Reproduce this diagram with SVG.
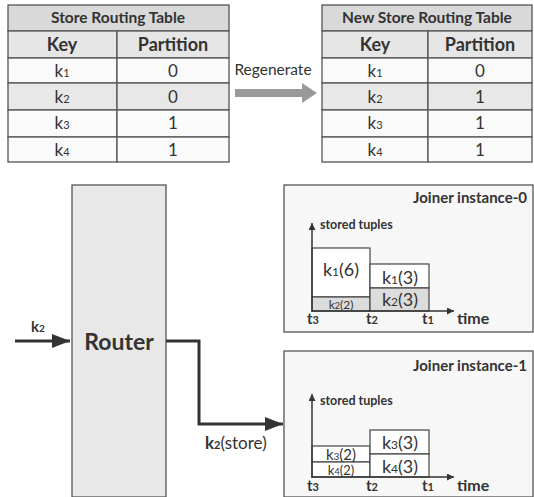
<svg xmlns="http://www.w3.org/2000/svg" width="534" height="497" viewBox="0 0 534 497">
<defs>
<style>
text{font-family:Lato,"Open Sans","Liberation Sans",sans-serif;fill:#333}
.b{font-weight:bold}
.cell{stroke:#555;stroke-width:1.3}
.title{fill:#d9d9d9}
.hdr{fill:#e6e6e6}
.wr{fill:#fafafa}
.gr{fill:#e8e8e8}
.tt{font-size:15.5px;font-weight:bold;text-anchor:middle}
.th{font-size:18px;font-weight:bold;text-anchor:middle}
.td{font-size:17px;text-anchor:middle}
.sub{font-size:11px}
.ax{stroke:#333;stroke-width:1.5;fill:none}
.lab{font-size:15px;font-weight:bold}
.st{font-size:12.5px;font-weight:bold}
.jt{font-size:15px;font-weight:bold;text-anchor:end}
.bw{fill:#fff;stroke:#444;stroke-width:1.2}
.bg{fill:#dcdcdc;stroke:#444;stroke-width:1.2}
</style>
<marker id="ah" viewBox="0 0 10 10" refX="10" refY="5" markerWidth="7" markerHeight="7" orient="auto" markerUnits="userSpaceOnUse"><path d="M0,0L10,5L0,10z" fill="#333"/></marker>
<marker id="ahb" viewBox="0 0 10 10" refX="10" refY="5" markerWidth="18" markerHeight="14" orient="auto" markerUnits="userSpaceOnUse" preserveAspectRatio="none"><path d="M0,0L10,5L0,10z" fill="#333"/></marker>
</defs>

<g id="store-table">
<rect class="cell title" x="8" y="5" width="221" height="26"/>
<rect class="cell hdr" x="8" y="31" width="109" height="27"/>
<rect class="cell hdr" x="117" y="31" width="112" height="27"/>
<rect class="cell wr" x="8" y="58" width="109" height="25"/><rect class="cell wr" x="117" y="58" width="112" height="25"/>
<rect class="cell gr" x="8" y="83" width="109" height="27"/><rect class="cell gr" x="117" y="83" width="112" height="27"/>
<rect class="cell wr" x="8" y="110" width="109" height="27"/><rect class="cell wr" x="117" y="110" width="112" height="27"/>
<rect class="cell wr" x="8" y="137" width="109" height="25"/><rect class="cell wr" x="117" y="137" width="112" height="25"/>
<text class="tt" x="118" y="23">Store Routing Table</text>
<text class="th" x="62" y="51">Key</text>
<text class="th" x="173" y="51">Partition</text>
<text class="td" x="62" y="77">k<tspan class="sub">1</tspan></text><text class="td" x="173" y="77">0</text>
<text class="td" x="62" y="103">k<tspan class="sub">2</tspan></text><text class="td" x="173" y="103">0</text>
<text class="td" x="62" y="129">k<tspan class="sub">3</tspan></text><text class="td" x="173" y="129">1</text>
<text class="td" x="62" y="156">k<tspan class="sub">4</tspan></text><text class="td" x="173" y="156">1</text>
</g>

<g id="regenerate">
<text x="273" y="75" style="font-size:15.5px;text-anchor:middle">Regenerate</text>
<path d="M235,89H302V83L317,93L302,103V97H235z" fill="#999"/>
</g>

<g id="new-store-table">
<rect class="cell title" x="322" y="5" width="210" height="26"/>
<rect class="cell hdr" x="322" y="31" width="106" height="27"/>
<rect class="cell hdr" x="428" y="31" width="104" height="27"/>
<rect class="cell wr" x="322" y="58" width="106" height="25"/><rect class="cell wr" x="428" y="58" width="104" height="25"/>
<rect class="cell gr" x="322" y="83" width="106" height="27"/><rect class="cell gr" x="428" y="83" width="104" height="27"/>
<rect class="cell wr" x="322" y="110" width="106" height="27"/><rect class="cell wr" x="428" y="110" width="104" height="27"/>
<rect class="cell wr" x="322" y="137" width="106" height="25"/><rect class="cell wr" x="428" y="137" width="104" height="25"/>
<text class="tt" x="427" y="23">New Store Routing Table</text>
<text class="th" x="375" y="51">Key</text>
<text class="th" x="480" y="51">Partition</text>
<text class="td" x="375" y="77">k<tspan class="sub">1</tspan></text><text class="td" x="480" y="77">0</text>
<text class="td" x="375" y="103">k<tspan class="sub">2</tspan></text><text class="td" x="480" y="103">1</text>
<text class="td" x="375" y="129">k<tspan class="sub">3</tspan></text><text class="td" x="480" y="129">1</text>
<text class="td" x="375" y="156">k<tspan class="sub">4</tspan></text><text class="td" x="480" y="156">1</text>
</g>

<g id="router">
<rect x="72" y="185" width="94" height="312" fill="#e8e8e8" stroke="#555" stroke-width="1.3"/>
<text x="119" y="350" style="font-size:23px;font-weight:bold;text-anchor:middle">Router</text>
</g>

<g id="joiner-0">
<rect x="284" y="185" width="249" height="147" fill="#f7f7f7" stroke="#555" stroke-width="1.3"/>
<text class="jt" x="527" y="203">Joiner instance-0</text>
<rect class="bw" x="312" y="248" width="58" height="49"/>
<rect class="bg" x="312" y="297" width="58" height="14"/>
<rect class="bw" x="370" y="264" width="59" height="24"/>
<rect class="bg" x="370" y="288" width="59" height="23"/>
<line class="ax" x1="312" y1="312" x2="312" y2="223" marker-end="url(#ah)"/>
<line class="ax" x1="312" y1="311" x2="454" y2="311" marker-end="url(#ah)"/>
<text class="st" x="320" y="229">stored tuples</text>
<text x="341" y="276" style="font-size:18px;text-anchor:middle">k<tspan style="font-size:12px">1</tspan>(6)</text>
<text x="341" y="309" style="font-size:12px;text-anchor:middle">k<tspan style="font-size:9px">2</tspan>(2)</text>
<text x="400" y="284" style="font-size:18px;text-anchor:middle">k<tspan style="font-size:12px">1</tspan>(3)</text>
<text x="400" y="306" style="font-size:18px;text-anchor:middle">k<tspan style="font-size:12px">2</tspan>(3)</text>
<text class="lab" x="313" y="324" text-anchor="middle">t<tspan style="font-size:11px">3</tspan></text>
<text class="lab" x="372" y="324" text-anchor="middle">t<tspan style="font-size:11px">2</tspan></text>
<text class="lab" x="428" y="324" text-anchor="middle">t<tspan style="font-size:11px">1</tspan></text>
<text x="457" y="324" style="font-size:16px;font-weight:bold">time</text>
</g>

<g id="joiner-1">
<rect x="284" y="351" width="249" height="146" fill="#f7f7f7" stroke="#555" stroke-width="1.3"/>
<text class="jt" x="527" y="371">Joiner instance-1</text>
<rect class="bw" x="312" y="446" width="58" height="16"/>
<rect class="bw" x="312" y="462" width="58" height="15"/>
<rect class="bw" x="370" y="430" width="59" height="24"/>
<rect class="bw" x="370" y="454" width="59" height="23"/>
<line class="ax" x1="312" y1="478" x2="312" y2="394" marker-end="url(#ah)"/>
<line class="ax" x1="312" y1="477" x2="454" y2="477" marker-end="url(#ah)"/>
<text class="st" x="320" y="405">stored tuples</text>
<text x="341" y="460" style="font-size:15px;text-anchor:middle">k<tspan style="font-size:10px">3</tspan>(2)</text>
<text x="341" y="475" style="font-size:13px;text-anchor:middle">k<tspan style="font-size:9px">4</tspan>(2)</text>
<text x="400" y="449" style="font-size:18px;text-anchor:middle">k<tspan style="font-size:12px">3</tspan>(3)</text>
<text x="400" y="473" style="font-size:18px;text-anchor:middle">k<tspan style="font-size:12px">4</tspan>(3)</text>
<text class="lab" x="313" y="491" text-anchor="middle">t<tspan style="font-size:11px">3</tspan></text>
<text class="lab" x="372" y="491" text-anchor="middle">t<tspan style="font-size:11px">2</tspan></text>
<text class="lab" x="428" y="491" text-anchor="middle">t<tspan style="font-size:11px">1</tspan></text>
<text x="457" y="491" style="font-size:16px;font-weight:bold">time</text>
</g>

<g id="connectors">
<line x1="15" y1="341" x2="70" y2="341" stroke="#333" stroke-width="3" marker-end="url(#ahb)"/>
<text x="31" y="332" style="font-size:15px;font-weight:bold">k<tspan style="font-size:10px">2</tspan></text>
<path d="M166,341H199V424H283" fill="none" stroke="#333" stroke-width="3" marker-end="url(#ahb)"/>
<text x="205" y="449" style="font-size:17px"><tspan style="font-weight:bold">k</tspan><tspan style="font-size:11px;font-weight:bold">2</tspan>(store)</text>
</g>
</svg>
